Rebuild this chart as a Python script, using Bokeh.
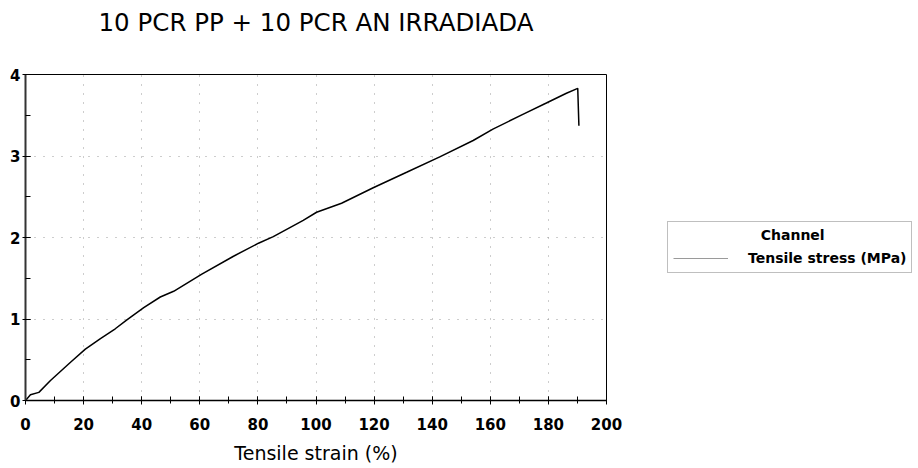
from bokeh.plotting import figure
from bokeh.models import Legend, LegendItem, Range1d, FixedTicker, LinearAxis
from bokeh.layouts import row
from bokeh.embed import file_html
from bokeh.resources import INLINE

# Data
strain = [0, 1.7, 4.6, 8.6, 15.5, 20.6, 25.8, 30.9, 34.9, 40.7, 46.4, 51.0,
          60.7, 71.6, 80.2, 85.3, 89.9, 95.6, 100.2, 108.8, 119.7, 131.2,
          142.6, 154.1, 160.9, 171.2, 179.3, 186.2, 190.1, 190.5]
stress = [0, 0.07, 0.10, 0.245, 0.47, 0.63, 0.76, 0.88, 0.99, 1.14, 1.27, 1.34,
          1.55, 1.77, 1.93, 2.01, 2.10, 2.21, 2.31, 2.42, 2.61, 2.80,
          2.99, 3.19, 3.33, 3.51, 3.65, 3.77, 3.83, 3.37]

x_major = [0, 20, 40, 60, 80, 100, 120, 140, 160, 180, 200]
x_minor = [0, 10, 20, 30, 40, 50, 60, 70, 80, 90, 100, 110, 120, 130, 140,
           150, 160, 170, 180, 190, 200]
y_major = [0, 1, 2, 3, 4]
y_minor = [0, 0.5, 1, 1.5, 2, 2.5, 3, 3.5, 4]

title_text = "10 PCR PP + 10 PCR AN IRRADIADA"
x_label = "Tensile strain (%)"
legend_title = "Channel"
series_name = "Tensile stress (MPa)"

FONT = "DejaVu Sans"

p = figure(width=632, height=468, output_backend="svg", toolbar_location=None,
           x_range=Range1d(0, 200), y_range=Range1d(0, 4),
           min_border_left=25, min_border_right=26, min_border_top=74,
           min_border_bottom=68)

p.background_fill_color = "white"
p.border_fill_color = "white"
p.outline_line_color = "black"
p.outline_line_width = 1

# chart title, placed as the label of a bare top axis so it sits high above the frame
top = LinearAxis(ticker=FixedTicker(ticks=[]), axis_label=title_text)
top.axis_line_color = None
top.major_tick_line_color = None
top.minor_tick_line_color = None
top.major_tick_out = 0
top.major_tick_in = 0
top.minor_tick_out = 0
top.minor_tick_in = 0
top.major_label_standoff = 0
top.axis_label_standoff = 38
top.axis_label_text_font = FONT
top.axis_label_text_font_size = "24.5px"
top.axis_label_text_font_style = "normal"
top.axis_label_text_color = "black"
p.add_layout(top, "above")

# bottom axis
xa = p.below[0]
xa.ticker = FixedTicker(ticks=x_major, minor_ticks=x_minor)
xa.axis_label = x_label
xa.axis_label_text_font = FONT
xa.axis_label_text_font_size = "19px"
xa.axis_label_text_font_style = "normal"
xa.axis_label_text_color = "black"
xa.axis_label_standoff = 9
xa.major_label_text_font = FONT
xa.major_label_text_font_size = "15px"
xa.major_label_text_font_style = "bold"
xa.major_label_text_color = "black"
xa.major_label_standoff = 13
xa.axis_line_color = "black"
xa.axis_line_width = 1.5
xa.major_tick_in = 4
xa.major_tick_out = 4
xa.minor_tick_in = 4
xa.minor_tick_out = 3
xa.major_tick_line_color = "black"
xa.minor_tick_line_color = "black"

# left axis
ya = p.left[0]
ya.ticker = FixedTicker(ticks=y_major, minor_ticks=y_minor)
ya.major_label_text_font = FONT
ya.major_label_text_font_size = "15px"
ya.major_label_text_font_style = "bold"
ya.major_label_text_color = "black"
ya.major_label_standoff = 2
ya.axis_line_color = "#333333"
ya.axis_line_width = 2
ya.major_tick_in = 5
ya.major_tick_out = 3
ya.minor_tick_in = 5
ya.minor_tick_out = 0
ya.major_tick_line_color = "black"
ya.minor_tick_line_color = "black"

# grid: faint dotted
for g in (p.xgrid[0], p.ygrid[0]):
    g.grid_line_color = "#9a9a9a"
    g.grid_line_dash = "1 8"
    g.grid_line_width = 1

# data line
p.line(strain, stress, line_color="black", line_width=1.5)

# ---- legend panel (right side) ----
pl = figure(width=286, height=468, output_backend="svg", toolbar_location=None,
            x_range=Range1d(0, 1), y_range=Range1d(0, 1),
            x_axis_type=None, y_axis_type=None,
            min_border_left=0, min_border_right=0, min_border_top=0,
            min_border_bottom=0)
pl.outline_line_color = None
pl.background_fill_color = "white"
pl.border_fill_color = "white"
pl.grid.visible = False

# legend sample (grey line): hidden copy of the series, used only for its legend swatch
proxy = pl.line(strain, stress, line_color="#9a9a9a", line_width=1, visible=False)

legend = Legend(items=[LegendItem(label=series_name, renderers=[proxy])],
                location=(35, 127), title="\u00a0" * 18 + legend_title)
legend.title_text_font = FONT
legend.title_text_font_size = "14px"
legend.title_text_font_style = "bold"
legend.title_text_color = "black"
legend.title_standoff = 6
legend.label_text_font = FONT
legend.label_text_font_size = "14px"
legend.label_text_font_style = "bold"
legend.label_text_color = "black"
legend.glyph_width = 55
legend.glyph_height = 18
legend.label_standoff = 20
legend.label_height = 18
legend.padding = 5
legend.margin = 0
legend.spacing = 0
legend.border_line_color = "#808080"
legend.border_line_width = 1
legend.background_fill_color = "white"
legend.background_fill_alpha = 1
legend.inactive_fill_alpha = 0
pl.add_layout(legend, "center")

layout = row(p, pl)
open("out.html", "w").write(file_html(layout, INLINE))
